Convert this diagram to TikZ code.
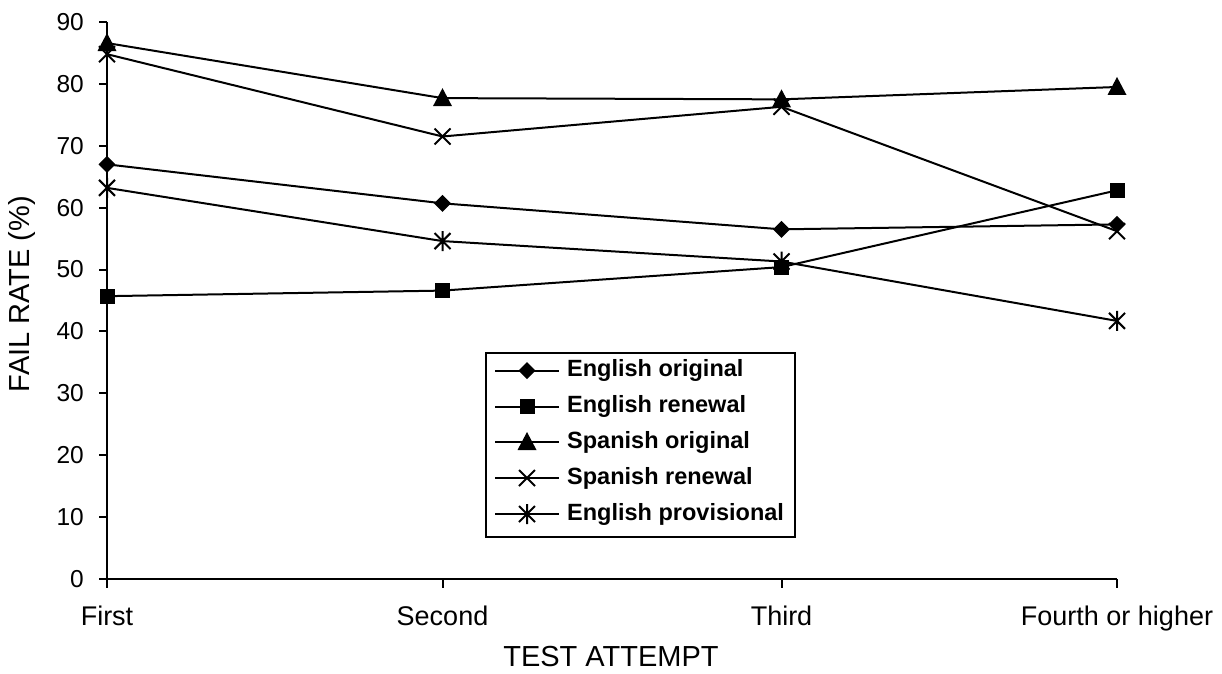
\documentclass[tikz,border=0pt]{standalone}
\usepackage{fontspec}
\setmainfont{Liberation Sans}
\newcommand\yv[1]{579-#1*6.189}
\tikzset{
  series/.style={line width=2pt, line join=round},
  axisline/.style={line width=2.4pt},
  tickline/.style={line width=2pt},
  ticklab/.style={font=\fontsize{24.5}{28}\selectfont, inner sep=0pt},
  catlab/.style={font=\fontsize{27}{32}\selectfont, inner sep=0pt, anchor=base},
  titlelab/.style={font=\fontsize{29}{34}\selectfont, inner sep=0pt},
  leglab/.style={font=\fontsize{23.5}{27}\selectfont\bfseries, anchor=west, inner sep=0pt},
  legbox/.style={draw, line width=2pt},
  mkdiamond/.pic={\fill (-8.5,0)--(0,-8.5)--(8.5,0)--(0,8.5)--cycle;},
  mksquare/.pic={\fill (-7.5,-7.5) rectangle (7.5,7.5);},
  mktriangle/.pic={\fill (-9.5,8)--(9.5,8)--(0,-10)--cycle;},
  mkcross/.pic={\draw[line width=2pt] (-8,-8)--(8,8) (-8,8)--(8,-8);},
  mkstar/.pic={\draw[line width=2pt] (-8,-8)--(8,8) (-8,8)--(8,-8) (0,-10)--(0,10);}
}
\begin{document}
\begin{tikzpicture}[x=1pt,y=-1pt]
\useasboundingbox (0,0) rectangle (1222,673);
% category positions
\def\xa{107}\def\xb{442.5}\def\xc{781.5}\def\xd{1117}
% axes
\coordinate (top) at (\xa,22);
\coordinate (orig) at (\xa,579);
\coordinate (xend) at (\xd,579);
\draw[axisline] (top) -- (orig) -- (xend);
\foreach \v in {0,10,...,90}{
  \draw[tickline] (99,{\yv{\v}}) -- (\xa,{\yv{\v}});
  \node[ticklab, anchor=east] (yl\v) at (84,{\yv{\v}}) {\v};
}
\foreach \x/\n/\t in {\xa/ca/First,\xb/cb/Second,\xc/cc/Third,\xd/cd/Fourth or higher}{
  \draw[tickline] (\x,579) -- (\x,588);
  \node[catlab] (\n) at (\x,625) {\t};
}
\node[titlelab] (xtitle) at (611,657) {TEST ATTEMPT};
\node[titlelab, rotate=90] (ytitle) at (22,294) {FAIL RATE (\%)};
% data points
\foreach \s/\a/\b/\c/\d in {eo/67.0/60.7/56.5/57.3, er/45.7/46.6/50.4/62.8, so/86.6/77.7/77.5/79.5, sr/84.8/71.5/76.3/56.2, ep/63.2/54.6/51.3/41.7}{
  \coordinate (\s1) at (\xa,{\yv{\a}});
  \coordinate (\s2) at (\xb,{\yv{\b}});
  \coordinate (\s3) at (\xc,{\yv{\c}});
  \coordinate (\s4) at (\xd,{\yv{\d}});
}
\draw[series] (eo1) -- (eo2) -- (eo3) -- (eo4);
\foreach \p in {eo1,eo2,eo3,eo4} \pic at (\p) {mkdiamond};
\draw[series] (er1) -- (er2) -- (er3) -- (er4);
\foreach \p in {er1,er2,er3,er4} \pic at (\p) {mksquare};
\draw[series] (so1) -- (so2) -- (so3) -- (so4);
\foreach \p in {so1,so2,so3,so4} \pic at (\p) {mktriangle};
\draw[series] (sr1) -- (sr2) -- (sr3) -- (sr4);
\foreach \p in {sr1,sr2,sr3,sr4} \pic at (\p) {mkcross};
\draw[series] (ep1) -- (ep2) -- (ep3) -- (ep4);
\foreach \p in {ep1,ep2,ep3,ep4} \pic at (\p) {mkstar};
% legend
\draw[legbox] (486,353) rectangle (795,537);
\foreach \r/\y/\m/\t in {1/370.7/mkdiamond/English original, 2/406.7/mksquare/English renewal, 3/442/mktriangle/Spanish original, 4/478/mkcross/Spanish renewal, 5/514/mkstar/English provisional}{
  \coordinate (la\r) at (495,\y);
  \coordinate (lb\r) at (559,\y);
  \coordinate (lm\r) at (527,\y);
  \draw[series] (la\r) -- (lb\r);
  \pic at (lm\r) {\m};
  \node[leglab] (lt\r) at (567,\y) {\t};
}
\end{tikzpicture}
\end{document}
